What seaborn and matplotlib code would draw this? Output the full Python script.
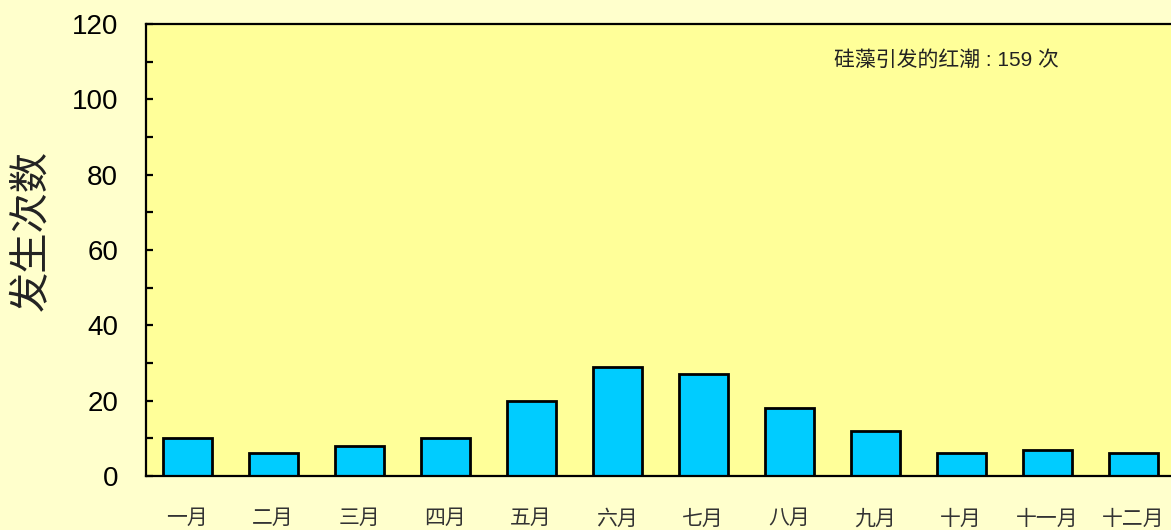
import matplotlib
matplotlib.use("Agg")
import matplotlib.pyplot as plt
import seaborn as sns
import pandas as pd
from matplotlib.ticker import MultipleLocator

# data
months = ["一月", "二月", "三月", "四月", "五月", "六月",
          "七月", "八月", "九月", "十月", "十一月", "十二月"]
counts = [10, 6, 8, 10, 20, 29, 27, 18, 12, 6, 7, 6]
total = 159

y_label = "发生次数"
note = f"硅藻引发的红潮 : {total} 次"

sns.set_style("white")
plt.rcParams["font.family"] = ["Liberation Sans", "Noto Sans CJK SC", "DejaVu Sans"]

df = pd.DataFrame({"month": months, "count": counts})

fig = plt.figure(figsize=(11.71, 5.30), dpi=100)
fig.patch.set_facecolor("#FFFFCC")
ax = fig.add_axes([146 / 1171, 54 / 530, 1 - 146 / 1171, (476 - 24) / 530])
ax.set_facecolor("#FFFF99")

sns.barplot(data=df, x="month", y="count", color="#00CCFF", saturation=1,
            edgecolor="black", linewidth=2, width=0.57, ax=ax)

ax.set_xlim(-0.477, 11.44)
ax.set_ylim(0, 120)
ax.yaxis.set_major_locator(MultipleLocator(20))
ax.yaxis.set_minor_locator(MultipleLocator(10))

for side in ["left", "bottom", "top"]:
    ax.spines[side].set_visible(True)
    ax.spines[side].set_color("black")
    ax.spines[side].set_linewidth(1.6)
ax.spines["right"].set_visible(False)

ax.tick_params(axis="y", which="both", direction="in", length=5, width=1.6,
               left=True, labelsize=20, pad=20, colors="black")
ax.tick_params(axis="x", length=0, labelsize=15, pad=24, labelcolor="#333333")

ax.set_xlabel("")
ax.set_ylabel(y_label, fontsize=29, color="#222222")
ax.yaxis.set_label_coords(-0.093, 0.544)

# note in upper right of the plot area
ax.text(0.671, 0.92, note, transform=ax.transAxes, fontsize=15,
        color="#222222", ha="left", va="center")

fig.savefig("out.png", dpi=100, facecolor=fig.get_facecolor())
